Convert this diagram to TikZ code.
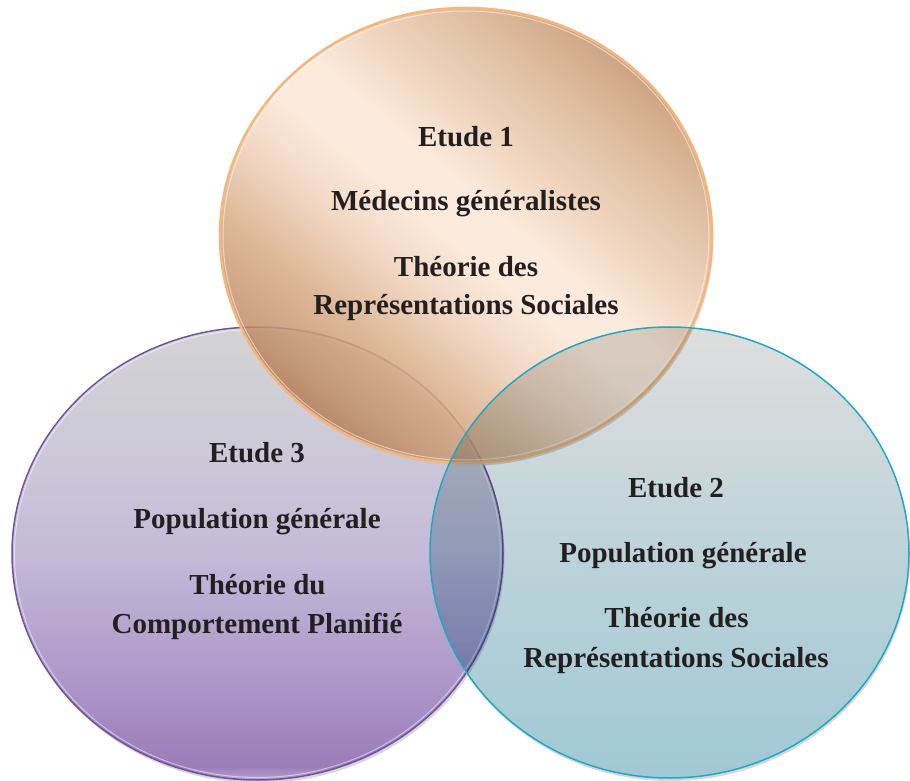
\documentclass[tikz,border=0pt]{standalone}
\usepackage{fontspec}
\setmainfont{Liberation Serif}
\usetikzlibrary{shapes.geometric}
\definecolor{txtc}{HTML}{231F20}
\definecolor{orbd}{HTML}{F7B57A}
\definecolor{pubd}{HTML}{7352A6}
\definecolor{tebd}{HTML}{1FA8C6}
\definecolor{orA}{HTML}{B57D57}
\definecolor{orB}{HTML}{C4926C}
\definecolor{orC}{HTML}{D7AC86}
\definecolor{orD}{HTML}{F0D1BA}
\definecolor{orE}{HTML}{FCE7D6}
\definecolor{orF}{HTML}{EBCAAE}
\definecolor{orG}{HTML}{DBB594}
\definecolor{orH}{HTML}{CDA07A}
\definecolor{orI}{HTML}{C3946F}
\definecolor{puA}{HTML}{BAA2CE}
\definecolor{puB}{HTML}{9A7CB8}
\definecolor{puC}{HTML}{AA92C6}
\definecolor{puD}{HTML}{C4BAD8}
\definecolor{puE}{HTML}{CDCAD8}
\definecolor{grT}{HTML}{D3D3D3}
\definecolor{teA}{HTML}{80B6C6}
\definecolor{teB}{HTML}{A6C4CC}
\definecolor{teC}{HTML}{C4CDD0}
\pgfdeclareverticalshading{orsh}{100bp}{color(0bp)=(orA); color(25bp)=(orA); color(28.5bp)=(orB); color(35bp)=(orC); color(42.5bp)=(orD); color(48.75bp)=(orE); color(53.75bp)=(orE); color(61.25bp)=(orF); color(67.5bp)=(orG); color(72.5bp)=(orH); color(75bp)=(orI); color(100bp)=(orI)}
\pgfdeclareverticalshading{push}{100bp}{color(0bp)=(puA); color(25bp)=(puA); color(26.5bp)=(puB); color(34bp)=(puC); color(50bp)=(puD); color(62bp)=(puE); color(75bp)=(grT); color(100bp)=(grT)}
\pgfdeclareverticalshading{tesh}{100bp}{color(0bp)=(teA); color(25bp)=(teA); color(50bp)=(teB); color(65bp)=(teC); color(75bp)=(grT); color(100bp)=(grT)}
\begin{document}
\begin{tikzpicture}[x=1pt,y=1pt,
  txt/.style={font=\fontsize{29}{34}\selectfont\bfseries, text=txtc, anchor=base, inner sep=0pt},
  venn/.style={ellipse, inner sep=0pt, outer sep=0pt},
  shadowc/.style={fill=gray!45, opacity=0.7}]
\useasboundingbox (0,0) rectangle (910,780);
% shadows
\begin{scope}[even odd rule]
  \clip (-5,-5) rectangle (915,785) (257.5,226.5) ellipse (245.5 and 226.5);
  \fill[shadowc] (259,223.5) ellipse (245.5 and 226.5);
\end{scope}
% purple circle (Etude 3)
\node[venn, minimum width=491pt, minimum height=453pt, shading=push, draw=pubd, line width=1.5pt] (c3) at (257.5,226.5) {};
\draw[white, opacity=0.5, line width=1pt] (257.5,226.5) ellipse (243 and 224);
% orange circle (Etude 1)
\begin{scope}[even odd rule]
  \clip (-5,-5) rectangle (915,785) (466,544.5) ellipse (246 and 227.5);
  \fill[shadowc] (467.5,541.5) ellipse (246 and 227.5);
\end{scope}
\node[venn, minimum width=492pt, minimum height=455pt, shading=orsh, shading angle=-40, fill opacity=0.85, draw=orbd, line width=2.5pt] (c1) at (466,544.5) {};
\draw[white, opacity=0.5, line width=1pt] (466,544.5) ellipse (243 and 224.5);
% teal circle (Etude 2)
\begin{scope}[even odd rule]
  \clip (-5,-5) rectangle (915,785) (669.5,227.5) ellipse (239.5 and 225.5);
  \fill[shadowc] (670.5,224.5) ellipse (239.5 and 225.5);
\end{scope}
\begin{scope}[blend mode=multiply]
\node[venn, minimum width=479pt, minimum height=451pt, shading=tesh, fill opacity=0.75] (c2) at (669.5,227.5) {};
\end{scope}
\draw[tebd, line width=1.5pt] (c2.center) ellipse (239.5 and 225.5);
% texts
\node[txt] (t1a) at (466,633) {Etude 1};
\node[txt] (t1b) at (466,569) {Médecins généralistes};
\node[txt] (t1c) at (466,503) {Théorie des};
\node[txt] (t1d) at (466,465) {Représentations Sociales};
\node[txt] (t3a) at (257,317) {Etude 3};
\node[txt] (t3b) at (257,252) {Population générale};
\node[txt] (t3c) at (257.5,186) {Théorie du};
\node[txt] (t3d) at (257,147) {Comportement Planifié};
\node[txt] (t2a) at (676,283) {Etude 2};
\node[txt] (t2b) at (683,218) {Population générale};
\node[txt] (t2c) at (676.5,153) {Théorie des};
\node[txt] (t2d) at (676,113) {Représentations Sociales};
\end{tikzpicture}
\end{document}
